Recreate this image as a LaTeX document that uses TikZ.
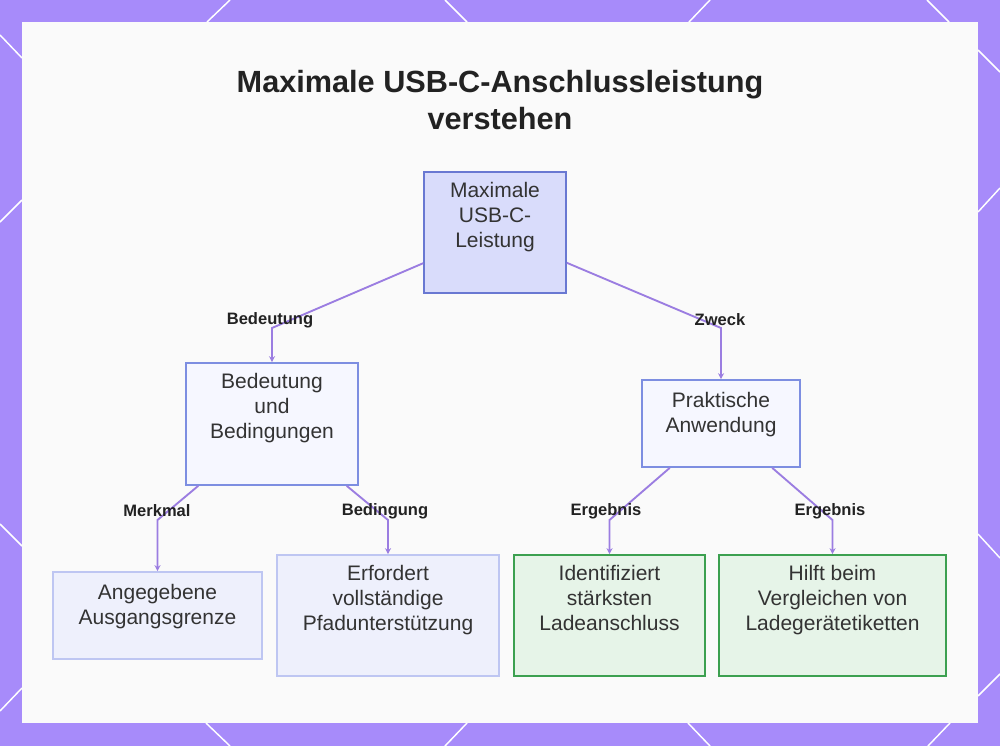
\documentclass[tikz,border=0pt]{standalone}
\usepackage{fontspec}
\setmainfont{Liberation Sans}
\definecolor{Rahmen}{RGB}{167,139,250}
\definecolor{Papier}{RGB}{250,250,250}
\definecolor{Linie}{RGB}{155,125,225}
\definecolor{Schrift}{RGB}{51,51,51}
\definecolor{Titel}{RGB}{34,34,34}
\definecolor{WurzelFill}{RGB}{217,220,251}
\definecolor{WurzelRand}{RGB}{105,120,210}
\definecolor{MitteFill}{RGB}{246,247,255}
\definecolor{MitteRand}{RGB}{125,142,225}
\definecolor{BlattFill}{RGB}{238,240,252}
\definecolor{BlattRand}{RGB}{190,198,242}
\definecolor{GruenFill}{RGB}{230,244,232}
\definecolor{GruenRand}{RGB}{60,160,80}
\usepackage{tikz}
\usetikzlibrary{arrows.meta, positioning}

\begin{document}
\begin{tikzpicture}[x=0.75pt, y=-0.75pt,
	font=\fontsize{15.75pt}{18.75pt}\selectfont,
	knoten/.style={rectangle, draw, line width=1.2pt, align=center, inner sep=0pt, text=Schrift},
	wurzel/.style={knoten, draw=WurzelRand, fill=WurzelFill},
	mitte/.style={knoten, draw=MitteRand, fill=MitteFill},
	blatt/.style={knoten, draw=BlattRand, fill=BlattFill},
	gruen/.style={knoten, draw=GruenRand, fill=GruenFill},
	etikett/.style={font=\fontsize{12.4pt}{14pt}\selectfont\bfseries, text=Titel, inner sep=1pt},
	pfeil/.style={-{Stealth[length=4.5pt, width=4.5pt]}, line width=1.4pt, Linie},
	strich/.style={white, line width=1.1pt}]

	% Rahmen
	\useasboundingbox (0,0) rectangle (1000,746);
	\fill[Rahmen] (0,0) rectangle (1000,746);
	\foreach \xa/\ya/\xb/\yb in {230/0/207/22, 445/0/467/22, 710/0/689/22, 927/0/949/22,
		206/723/230/746, 467/723/445/746, 688/723/710/746, 950/723/928/746,
		0/35/22/58, 0/222/22/200, 0/524/22/546, 0/711/22/688,
		978/50/1000/72, 1000/188/978/212, 978/534/1000/558, 978/696/1000/674}
		\draw[strich] (\xa,\ya) -- (\xb,\yb);
	\fill[Papier] (22,22) rectangle (978,723);

	\node[font=\fontsize{23pt}{27.75pt}\selectfont\bfseries, text=Titel, align=center] (titel) at (500,100)
		{Maximale USB-C-Anschlussleistung\\verstehen};

	\node[wurzel, minimum width=106.5pt, minimum height=90.75pt] (wurzel) at (495,232.5) {Maximale\\USB-C-\\Leistung\\[8pt]~};
	\node[mitte, minimum width=129pt, minimum height=91.5pt] (bedeutung) at (272,424) {Bedeutung\\und\\Bedingungen\\[8pt]~};
	\node[mitte, minimum width=118.5pt, minimum height=65.25pt] (anwendung) at (721,423.5) {Praktische\\Anwendung\\[-1.5pt]~};
	\node[blatt, minimum width=156.75pt, minimum height=65.25pt] (grenze) at (157.5,615.5) {Angegebene\\Ausgangsgrenze\\[-1.5pt]~};
	\node[blatt, minimum width=166.5pt, minimum height=90.75pt] (pfad) at (388,615.5) {Erfordert\\vollständige\\Pfadunterstützung\\[8pt]~};
	\node[gruen, minimum width=143.25pt, minimum height=90.75pt] (anschluss) at (609.5,615.5) {Identifiziert\\stärksten\\Ladeanschluss\\[8pt]~};
	\node[gruen, minimum width=170.25pt, minimum height=90.75pt] (etiketten) at (832.5,615.5) {Hilft beim\\Vergleichen von\\Ladegerätetiketten\\[8pt]~};

	% Knicke der Verbindungen
	\coordinate (kBed) at (272,328);
	\coordinate (kZweck) at (721,328);
	\coordinate (kMerk) at (157.5,520);
	\coordinate (kBedi) at (388,520);
	\coordinate (kErg1) at (609.5,520);
	\coordinate (kErg2) at (832.5,520);

	\draw[pfeil] (wurzel) -- (kBed) -- (bedeutung);
	\draw[pfeil] (wurzel) -- (kZweck) -- (anwendung);
	\draw[pfeil] (bedeutung) -- (kMerk) -- (grenze);
	\draw[pfeil] (bedeutung) -- (kBedi) -- (pfad);
	\draw[pfeil] (anwendung) -- (kErg1) -- (anschluss);
	\draw[pfeil] (anwendung) -- (kErg2) -- (etiketten);

	\node[etikett] (lBed) at (270,320) {Bedeutung};
	\node[etikett] (lZweck) at (720,320) {Zweck};
	\node[etikett] (lMerk) at (157,511) {Merkmal};
	\node[etikett] (lBedi) at (385,511) {Bedingung};
	\node[etikett] (lErg1) at (606,511) {Ergebnis};
	\node[etikett] (lErg2) at (830,511) {Ergebnis};
\end{tikzpicture}
\end{document}
